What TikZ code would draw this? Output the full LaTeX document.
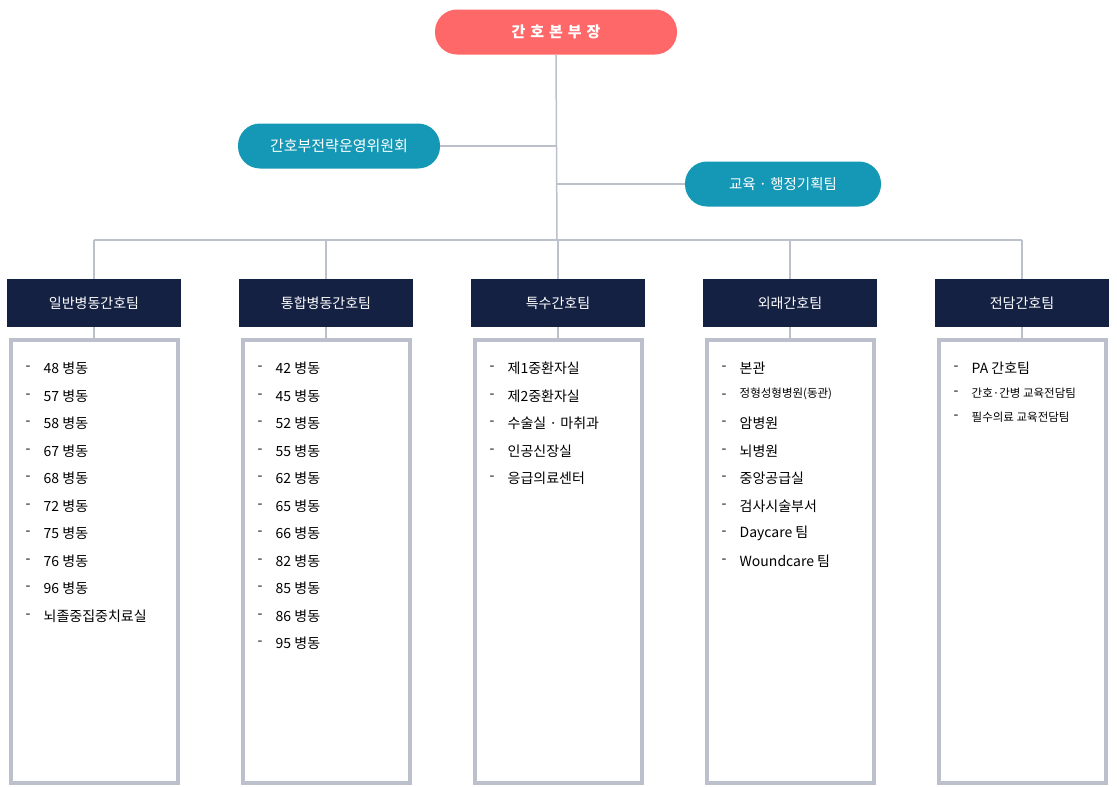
\documentclass[tikz,border=0pt]{standalone}
\usepackage{fontspec}
\setmainfont{Noto Sans CJK KR}
\usetikzlibrary{positioning}
\definecolor{headred}{HTML}{FF6869}
\definecolor{teal}{HTML}{1598B6}
\definecolor{navy}{HTML}{142143}
\definecolor{linegray}{HTML}{BCC0CC}
\tikzset{
	pill/.style={rounded corners=22pt,text=white,minimum height=45pt,font=\fontsize{15}{15}\selectfont\bfseries},
	teamhead/.style={fill=navy,text=white,minimum width=174pt,minimum height=48pt,font=\fontsize{14}{14}\selectfont},
	listbox/.style={draw=linegray,line width=4pt,fill=white,minimum width=167pt,minimum height=443pt},
	conn/.style={draw=linegray,line width=1.5pt},
	item/.style={anchor=west,font=\fontsize{14}{14}\selectfont,inner sep=0pt},
	smallitem/.style={anchor=west,font=\fontsize{11.5}{12}\selectfont,inner sep=0pt}
}
\newcommand\teamlist[3]{% box, style, list
	\foreach \t [count=\i] in {#3} {
		\node[item] at ($(#1.north west)+(17pt,{-31pt-27.5pt*(\i-1)})$) {-};
		\node[#2] at ($(#1.north west)+(35pt,{-31pt-27.5pt*(\i-1)})$) {\t};
	}}
\usetikzlibrary{calc}
\begin{document}
\begin{tikzpicture}[x=1pt,y=-1pt]
	\useasboundingbox (0,0) rectangle (1117,787);
	\node[pill,fill=headred,minimum width=242pt] (chief) at (556,32) {간\,\,호\,\,본\,\,부\,\,장};
	\node[pill,fill=teal,minimum width=202pt,font=\fontsize{15}{15}\selectfont] (comm) at (339,146) {간호부전략운영위원회};
	\node[pill,fill=teal,minimum width=196pt,font=\fontsize{14.5}{15}\selectfont] (plan) at (783,184) {교육 · 행정기획팀};
	\coordinate (trunk) at (557,240);
	\draw[conn] (chief.south) -- (trunk);
	\draw[conn] (comm.east) -- (comm.east -| trunk);
	\draw[conn] (plan.west -| trunk) -- (plan.west);
	\foreach \n/\x/\name in {t1/94/일반병동간호팀,t2/326/통합병동간호팀,t3/558/특수간호팀,t4/790/외래간호팀,t5/1022/전담간호팀} {
		\node[teamhead] (\n) at (\x,303) {\name};
		\node[listbox] (\n box) at (\x,561) {};
		\draw[conn] (\n.south) -- (\n box.north);
		\draw[conn] (\n.north) -- (\n.north |- trunk);
	}
	\draw[conn] (t1.north |- trunk) -- (t5.north |- trunk);
	\teamlist{t1box}{item}{48 병동,57 병동,58 병동,67 병동,68 병동,72 병동,75 병동,76 병동,96 병동,뇌졸중집중치료실}
	\teamlist{t2box}{item}{42 병동,45 병동,52 병동,55 병동,62 병동,65 병동,66 병동,82 병동,85 병동,86 병동,95 병동}
	\teamlist{t3box}{item}{제1중환자실,제2중환자실,수술실 · 마취과,인공신장실,응급의료센터}
	\teamlist{t4box}{item}{본관,,암병원,뇌병원,중앙공급실,검사시술부서,Daycare 팀,Woundcare 팀}
	\node[smallitem] at ($(t4box.north west)+(35pt,-56pt)$) {정형성형병원(동관)};
	\node[item] at ($(t5box.north west)+(17pt,-31pt)$) {-};
	\node[item] at ($(t5box.north west)+(35pt,-31pt)$) {PA 간호팀};
	\node[item] at ($(t5box.north west)+(17pt,-56pt)$) {-};
	\node[smallitem] at ($(t5box.north west)+(35pt,-56pt)$) {간호·간병 교육전담팀};
	\node[item] at ($(t5box.north west)+(17pt,-80pt)$) {-};
	\node[smallitem] at ($(t5box.north west)+(35pt,-80pt)$) {필수의료 교육전담팀};
\end{tikzpicture}
\end{document}
